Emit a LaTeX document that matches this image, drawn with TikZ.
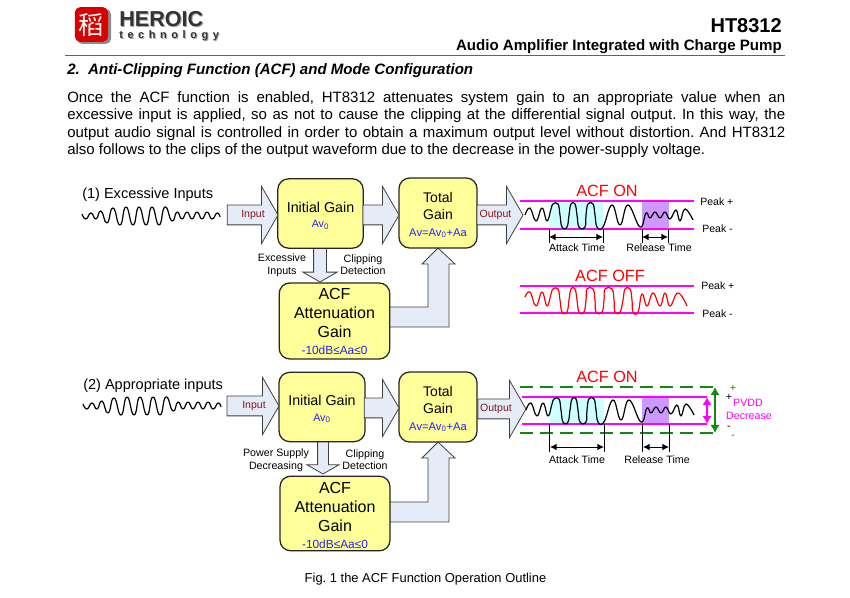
\documentclass[tikz,border=0pt]{standalone}
\usepackage{fontspec}
\setmainfont{Liberation Sans}
\newfontfamily\logofont[LetterSpace=42]{Liberation Sans}
\newfontfamily\cjk{Noto Sans CJK SC}
\usetikzlibrary{shapes.arrows,backgrounds,arrows.meta}
\frenchspacing

\definecolor{boxyellow}{HTML}{FFFF99}
\definecolor{arrowblue}{HTML}{E6ECF7}
\definecolor{headerblue}{HTML}{2F62E8}
\definecolor{cyanzone}{HTML}{CCFFFF}
\definecolor{purplezone}{HTML}{CC99FF}
\definecolor{inkblue}{HTML}{2222EE}
\definecolor{flowred}{HTML}{801818}
\definecolor{pvddgreen}{HTML}{118811}
\definecolor{peakpink}{HTML}{FF00FF}

\tikzset{
  gainbox/.style={draw=black!85,line width=.95pt,fill=boxyellow,rounded corners=8pt,inner sep=0pt,align=center,outer sep=0pt},
  initbox/.style={gainbox,font=\fontsize{10.7}{12}\selectfont},
  totalbox/.style={gainbox,font=\fontsize{10.5}{12.75}\selectfont},
  acfbox/.style={gainbox,font=\fontsize{12}{14.25}\selectfont},
  blockarrow/.style={single arrow,draw=black!75,line width=.6pt,fill=arrowblue,inner sep=0pt,outer sep=0pt,single arrow tip angle=120,anchor=tip},
  harrow/.style={blockarrow,text height=14.25pt,text depth=0pt,single arrow head extend=13.9pt},
  varrow/.style={blockarrow,text width=9pt,text height=0pt,text depth=0pt,single arrow head extend=8pt,shape border rotate=270},
  blockline/.style={draw=black!75,line width=.6pt,fill=arrowblue},
  flowlabel/.style={font=\fontsize{7.9}{9}\selectfont,text=flowred,inner sep=0pt},
  smalllabel/.style={font=\fontsize{8}{9.4}\selectfont,inner sep=0pt,align=center},
  peaklabel/.style={font=\fontsize{7.9}{9}\selectfont,inner sep=0pt,anchor=west},
  acflabel/.style={font=\fontsize{12.2}{14}\selectfont,text=red,inner sep=0pt},
  inputlabel/.style={font=\fontsize{10.9}{13}\selectfont,inner sep=0pt,anchor=west},
  peakline/.style={peakpink,line width=.9pt},
  sigline/.style={line width=.9pt,line join=round},
  timearrow/.style={{Latex[length=5pt,width=5pt]}-{Latex[length=5pt,width=5pt]},line width=.7pt},
}

\newcommand{\inputwave}[1]{
  \draw[sigline,shift={#1}] plot[smooth,tension=.95] coordinates {(0,-2) (4,3) (9,-3) (14,3) (19,-5) (25,7) (31,-8) (38,9) (44,-9) (51,9) (57,-9) (64,9) (70,-9) (77,9) (83,-9) (90,5) (95,-4) (100,3) (105,-4) (110,3) (115,-4) (120,3) (125,-4) (130,3) (135,-3) (138,1)};
}
\newcommand{\acfonwave}[1]{
  \draw[sigline,shift={#1}] plot[smooth,tension=.75] coordinates {(0,0) (5,-7) (11,6) (17,-7) (22,6) (26,-6) (28,-11) (33,-11) (35,0) (37,12) (42,12) (44,0) (46,-11) (50,-11) (52,0) (54,12) (60,12) (61,0) (63,-11) (68,-11) (70,0) (72,12) (78,12) (87,-10) (95,10) (103,-10) (115,12) (121,-2) (125,3) (130,-3) (135,3) (140,-3) (145,4) (151,-5) (155,6) (160,-6) (168,5)};
}
\newcommand{\acfoffwave}[1]{
  \draw[sigline,red,shift={#1}] plot[smooth,tension=.75] coordinates {(0,-3) (5,-8) (11,6) (17,-8) (22,6) (26,-6) (28,-11) (33,-11) (35,0) (37,12) (42,12) (44,0) (46,-11) (50,-11) (52,0) (54,12) (59,12) (61,0) (62,-11) (68,-11) (70,0) (71,12) (77,12) (79,0) (80,-11) (87,-11) (89,0) (90,12) (95,12) (98,0) (100,-11) (105,-11) (107,0) (108,12) (113,12) (117,-6) (122,6) (128,-7) (135,6) (140,-7) (145,6) (153,-7) (162,6)};
}

\begin{document}
\begin{tikzpicture}[x=.75pt,y=-.75pt]
  \useasboundingbox (0,0) rectangle (850,598);

  % header
  \fill[black!45,rounded corners=4pt] (77,9) rectangle (111,44);
  \node[fill=red!85!black,rounded corners=4pt,minimum width=25pt,minimum height=26pt,inner sep=0pt,text=white,font=\cjk\fontsize{19}{19}\selectfont] (logo) at (91.5,24.5) {稻};
  \node[anchor=west,inner sep=0pt,text=black!35,font=\bfseries\fontsize{16.2}{18}\selectfont] (heroicshade) at (120,20) {HEROIC};
  \node[anchor=west,inner sep=0pt,text=black!80,font=\bfseries\fontsize{16.2}{18}\selectfont] (heroic) at (119,19) {HEROIC};
  \node[anchor=west,inner sep=0pt,text=black!35,font=\logofont\bfseries\fontsize{8.2}{10}\selectfont] (techshade) at (120,37) {technology};
  \node[anchor=west,inner sep=0pt,text=black!80,font=\logofont\bfseries\fontsize{8.2}{10}\selectfont] (tech) at (119,36) {technology};
  \node[anchor=east,inner sep=0pt,font=\bfseries\fontsize{15}{18}\selectfont] (part) at (782,26) {HT8312};
  \node[anchor=east,inner sep=0pt,font=\bfseries\fontsize{11.3}{13}\selectfont] (subtitle) at (782,46.5) {Audio Amplifier Integrated with Charge Pump};
  \draw[headerblue,line width=1.2pt] (65,55.5) -- (785,55.5);
  \node[anchor=west,inner sep=0pt,font=\bfseries\itshape\fontsize{11.3}{13}\selectfont] (heading) at (67,71) {2.\ \ Anti-Clipping Function (ACF) and Mode Configuration};
  \node[anchor=north west,inner sep=0pt,text width=538.5pt,align=justify,font=\fontsize{11.25}{13}\selectfont] (para) at (67,91.5) {Once the ACF function is enabled, HT8312 attenuates system gain to an appropriate value when an\linebreak excessive input is applied, so as not to cause the clipping at the differential signal output. In this way, the\linebreak output audio signal is controlled in order to obtain a maximum output level without distortion. And HT8312\linebreak also follows to the clips of the output waveform due to the decrease in the power-supply voltage.};

  % row1 boxes
  \node[initbox,minimum width=64pt,minimum height=52pt] (init1) at (320.5,213.5) {\rule{0pt}{11pt}Initial Gain\\[-.5pt]\fontsize{8}{9}\selectfont\color{inkblue}Av$_{\mathrm{0}}$};
  \node[totalbox,minimum width=58.5pt,minimum height=52.5pt] (total1) at (438,213) {\rule{0pt}{10.5pt}Total\\Gain\\\fontsize{8.4}{11}\selectfont\color{inkblue}Av=Av$_{\mathrm{0}}$+Aa};
  \node[acfbox,minimum width=83pt,minimum height=57pt] (acf1) at (334.5,321) {ACF\\Attenuation\\Gain\\[-1.5pt]\fontsize{8.9}{12.5}\selectfont\color{inkblue}-10dB≤Aa≤0};

  % row1 arrows
  \node[harrow,minimum height=38pt] (inarrow1) at (278,215) {};
  \node[harrow,minimum height=27pt] (midarrow1) at (399,215) {};
  \node[harrow,minimum height=34.5pt] (outarrow1) at (523,215) {};
  \begin{scope}[on background layer]
    \node[varrow,minimum height=26pt] (downarrow1) at (320,282) {};
    \draw[blockline] (389,307) -- (428,307) -- (428,264) -- (422,264) -- (total1.south) -- (455,264) -- (449,264) -- (449,327) -- (389,327);
  \end{scope}

  % row1 labels
  \node[inputlabel] (case1) at (82,195) {(1) Excessive Inputs};
  \inputwave{(82,216)}
  \node[flowlabel] (inlab1) at (253,215) {Input};
  \node[flowlabel] (outlab1) at (495.5,215) {Output};
  \node[smalllabel] (excess1) at (282,265) {Excessive\\Inputs};
  \node[smalllabel] (clip1) at (363,264.5) {Clipping\\Detection};

  % row1 ACF ON
  \fill[cyanzone] (550,201) rectangle (603,229);
  \fill[purplezone] (642,201) rectangle (669,229);
  \draw[peakline] (520,201) -- (694,201);
  \draw[peakline] (520,229) -- (694,229);
  \acfonwave{(525,215)}
  \node[acflabel] (acfon1) at (607,191) {ACF ON};
  \node[peaklabel] (peakp1) at (700,202) {Peak +};
  \node[peaklabel] (peakm1) at (702,229) {Peak -};
  \foreach \x in {549,603,642,668} {
    \draw[line width=.7pt] (\x,229) -- (\x,243);
  }
  \path (549,237) coordinate (att1a) (603,237) coordinate (att1b) (642,237) coordinate (rel1a) (668,237) coordinate (rel1b);
  \draw[timearrow] (att1a) -- (att1b);
  \draw[timearrow] (rel1a) -- (rel1b);
  \node[smalllabel] (attack1) at (577,248) {Attack Time};
  \node[smalllabel] (release1) at (659,248) {Release Time};

  % row1 ACF OFF
  \draw[peakline] (520,286) -- (694,286);
  \draw[peakline] (520,313) -- (694,313);
  \acfoffwave{(525,300)}
  \node[acflabel] (acfoff) at (610,276) {ACF OFF};
  \node[peaklabel] (peakp2) at (701,286) {Peak +};
  \node[peaklabel] (peakm2) at (702,314) {Peak -};

  % row2 boxes
  \node[initbox,minimum width=64.5pt,minimum height=52pt] (init2) at (322,407) {\rule{0pt}{11pt}Initial Gain\\[-.5pt]\fontsize{8}{9}\selectfont\color{inkblue}Av$_{\mathrm{0}}$};
  \node[totalbox,minimum width=58.5pt,minimum height=52.5pt] (total2) at (438,407) {\rule{0pt}{10.5pt}Total\\Gain\\\fontsize{8.4}{11}\selectfont\color{inkblue}Av=Av$_{\mathrm{0}}$+Aa};
  \node[acfbox,minimum width=82.5pt,minimum height=56pt] (acf2) at (335,513.5) {\rule{0pt}{10.8pt}ACF\\Attenuation\\Gain\\[-1.5pt]\fontsize{8.9}{12.5}\selectfont\color{inkblue}-10dB≤Aa≤0};

  % row2 arrows
  \node[harrow,minimum height=39pt] (inarrow2) at (279,406) {};
  \node[harrow,minimum height=26pt] (midarrow2) at (399,408) {};
  \node[harrow,minimum height=36pt] (outarrow2) at (526,409) {};
  \begin{scope}[on background layer]
    \node[varrow,text width=7.5pt,minimum height=26pt] (downarrow2) at (323,474) {};
    \draw[blockline] (389,502) -- (428,502) -- (428,458) -- (422,458) -- (total2.south) -- (455,458) -- (449,458) -- (449,522) -- (389,522);
  \end{scope}

  % row2 labels
  \node[inputlabel] (case2) at (83,386) {(2) Appropriate inputs};
  \inputwave{(83,406)}
  \node[flowlabel] (inlab2) at (254,406) {Input};
  \node[flowlabel] (outlab2) at (496,409) {Output};
  \node[smalllabel] (power2) at (276,460) {Power Supply\\Decreasing};
  \node[smalllabel] (clip2) at (365,459.5) {Clipping\\Detection};

  % row2 ACF ON
  \fill[cyanzone] (550,397) rectangle (604,424);
  \fill[purplezone] (642,397) rectangle (669,424);
  \draw[peakline] (522,397) -- (707,397);
  \draw[peakline] (522,424) -- (707,424);
  \draw[pvddgreen,dashed,dash pattern=on 10pt off 5pt,line width=.9pt] (520,387) -- (717,387);
  \draw[pvddgreen,dashed,dash pattern=on 10pt off 5pt,line width=.9pt] (520,433) -- (717,433);
  \acfonwave{(526,410)}
  \node[acflabel] (acfon2) at (607,377) {ACF ON};
  \foreach \x in {549,604,642,669} {
    \draw[line width=.7pt] (\x,424) -- (\x,452);
  }
  \path (550,447) coordinate (att2a) (604,447) coordinate (att2b) (643,447) coordinate (rel2a) (669,447) coordinate (rel2b);
  \draw[timearrow] (att2a) -- (att2b);
  \draw[timearrow] (rel2a) -- (rel2b);
  \node[smalllabel] (attack2) at (577,460) {Attack Time};
  \node[smalllabel] (release2) at (657,460) {Release Time};
  \path (707,397) coordinate (mag2a) (707,424) coordinate (mag2b) (715,387) coordinate (grn2a) (715,433) coordinate (grn2b);
  \draw[{Latex[length=6pt,width=7pt]}-{Latex[length=6pt,width=7pt]},peakpink,line width=1.2pt] (mag2a) -- (mag2b);
  \draw[{Latex[length=6pt,width=7pt]}-{Latex[length=6pt,width=7pt]},pvddgreen,line width=1.2pt] (grn2a) -- (grn2b);
  \node[smalllabel,text=pvddgreen] (plus2a) at (733,388) {+};
  \node[smalllabel] (plus2b) at (729,397) {+};
  \node[smalllabel] (minus2a) at (729,428) {-};
  \node[smalllabel,text=pvddgreen] (minus2b) at (733,437) {-};
  \node[smalllabel,text=peakpink] (pvdd) at (748,403) {PVDD};
  \node[smalllabel,text=peakpink] (pvddb) at (749,416) {Decrease};

  % caption
  \node[inner sep=0pt,font=\fontsize{9.7}{12}\selectfont] (caption) at (425.5,579) {Fig. 1 the ACF Function Operation Outline};
\end{tikzpicture}
\end{document}
